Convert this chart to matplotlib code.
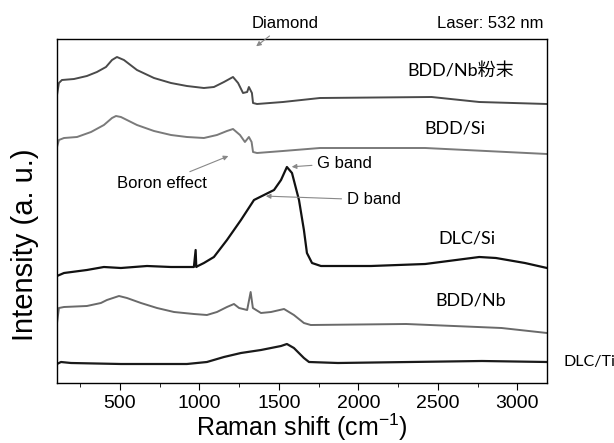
import matplotlib
matplotlib.use("Agg")
import matplotlib.pyplot as plt
from matplotlib.ticker import MultipleLocator

plt.rcParams['font.family'] = ['Liberation Sans', 'DejaVu Sans']
plt.rcParams['mathtext.default'] = 'regular'

# Raman shift (cm-1) and intensity (a.u., stacked offsets)
bdd_nb_powder_x = [104, 116, 135, 211, 292, 355, 412, 450, 481, 525, 607, 714, 821, 921,
                   1028, 1091, 1154, 1211, 1243, 1274, 1300, 1311, 1330, 1337, 1362,
                   1525, 1758, 2460, 2760, 3186]
bdd_nb_powder_y = [288, 300, 303, 304, 307, 311, 316, 323, 326, 323, 313, 305, 300, 297,
                   295, 296, 301, 306, 300, 290, 291, 296, 290, 280, 279,
                   281, 285, 286, 281, 279]

bdd_si_x = [104, 116, 148, 230, 318, 399, 450, 475, 506, 607, 714, 821, 921, 1028, 1110,
            1173, 1211, 1255, 1286, 1311, 1328, 1337, 1362, 1525, 1758, 2420, 3186]
bdd_si_y = [236, 243, 245, 246, 251, 258, 265, 267, 266, 258, 252, 248, 246, 245, 248,
            252, 254, 248, 241, 246, 241, 231, 230, 232, 235, 235, 229]

dlc_si_x = [104, 148, 292, 399, 506, 670, 821, 965, 976, 980, 990, 1028, 1091, 1173, 1261,
            1343, 1406, 1469, 1513, 1550, 1582, 1626, 1657, 1676, 1708, 1764, 2079, 2420,
            2760, 2865, 3047, 3186]
dlc_si_y = [107, 110, 113, 116, 115, 117, 116, 116, 133, 116, 117, 120, 126, 143, 163,
            183, 188, 193, 203, 216, 210, 183, 153, 130, 120, 117, 117, 119,
            126, 125, 120, 115]

bdd_nb_x = [104, 116, 148, 292, 380, 418, 494, 544, 632, 733, 840, 965, 1047, 1110, 1173,
            1217, 1249, 1300, 1322, 1336, 1387, 1450, 1532, 1594, 1657, 1700, 2300, 2600,
            2900, 3186]
bdd_nb_y = [60, 75, 76, 77, 80, 83, 87, 85, 80, 75, 71, 69, 68, 71, 76,
            79, 75, 73, 91, 75, 70, 71, 74, 68, 60, 58, 59, 57, 55, 50]

dlc_ti_x = [104, 129, 192, 506, 921, 1047, 1154, 1261, 1387, 1513, 1550, 1594, 1638, 1657,
            1689, 1871, 2777, 3186]
dlc_ti_y = [19, 21, 20, 19, 19, 21, 26, 30, 33, 37, 39, 35, 28, 25, 21, 20, 22, 21]

fig = plt.figure(figsize=(6.14, 4.43), dpi=100)
ax = fig.add_axes([57 / 614, 60 / 443, 490 / 614, 344 / 443])

ax.plot(bdd_nb_powder_x, bdd_nb_powder_y, color='#4a4a4a', lw=1.4)
ax.plot(bdd_si_x, bdd_si_y, color='#7a7a7a', lw=1.4)
ax.plot(dlc_si_x, dlc_si_y, color='#111111', lw=1.6)
ax.plot(bdd_nb_x, bdd_nb_y, color='#6a6a6a', lw=1.4)
ax.plot(dlc_ti_x, dlc_ti_y, color='#1a1a1a', lw=1.6)

ax.set_xlim(104, 3186)
ax.set_ylim(0, 344)
ax.xaxis.set_major_locator(MultipleLocator(500))
ax.xaxis.set_minor_locator(MultipleLocator(250))
ax.tick_params(axis='x', which='major', length=5, labelsize=14, pad=4)
ax.tick_params(axis='x', which='minor', length=3)
ax.set_yticks([])
for s in ax.spines.values():
    s.set_linewidth(1.0)

ax.set_xlabel('Raman shift (cm$^{-1}$)', fontsize=18, labelpad=-1)
fig.text(25 / 614, 1 - 245 / 443, 'Intensity (a. u.)', rotation=90,
         ha='center', va='center', fontsize=21)

# sample labels
lab = dict(family=['Lato', 'Noto Sans CJK SC'], fontsize=13, ha='center', va='center')
ax.text(2640, 312, 'BDD/Nb粉末', **lab)
ax.text(2607, 255, 'BDD/Si', **lab)
ax.text(2683, 145, 'DLC/Si', **lab)
ax.text(2708, 82, 'BDD/Nb', **lab)
ax.text(3290, 21, 'DLC/Ti', family=['Lato'], fontsize=11.5, ha='left', va='center',
        clip_on=False)

# annotations
arr = dict(arrowstyle='-|>', color='#888888', lw=0.8, mutation_scale=7)
ax.annotate('Diamond', xy=(1343, 335), xytext=(1538, 359), fontsize=12,
            ha='center', va='center', arrowprops=arr, annotation_clip=False)
ax.text(2827, 359, 'Laser: 532 nm', fontsize=12, ha='center', va='center', clip_on=False)
ax.annotate('G band', xy=(1563, 216), xytext=(1915, 220), fontsize=12,
            ha='center', va='center', arrowprops=arr)
ax.annotate('D band', xy=(1400, 187), xytext=(2098, 183), fontsize=12,
            ha='center', va='center', arrowprops=arr)
ax.annotate('Boron effect', xy=(1198, 228), xytext=(764, 200), fontsize=12,
            ha='center', va='center', arrowprops=arr)

fig.savefig('out.png', dpi=100)
